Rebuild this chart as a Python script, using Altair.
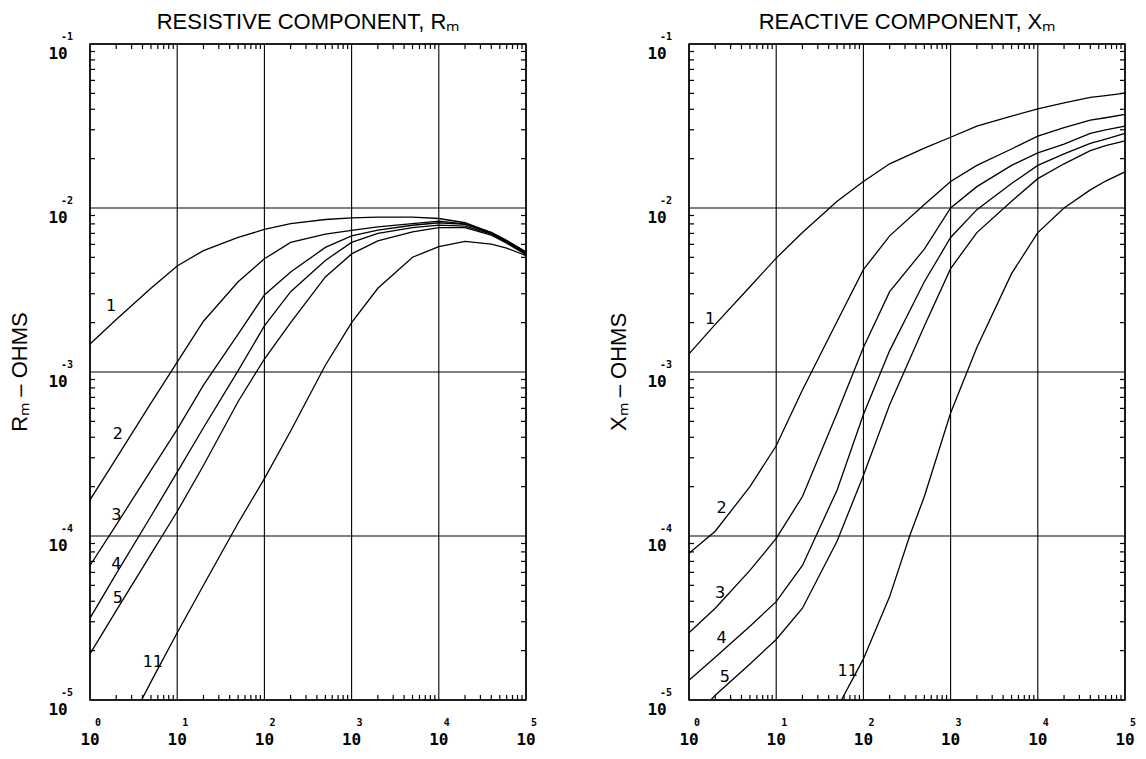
import altair as alt
import pandas as pd

# ---------------- values ----------------
FREQ = [1, 2, 5, 10, 20, 50, 100, 200, 500, 1000, 2000, 5000,
        10000, 20000, 40000, 60000, 100000]

# Resistive component R_m (ohms)
RM_1 = [1.48e-3, 2.09e-3, 3.24e-3, 4.43e-3, 5.50e-3, 6.61e-3, 7.41e-3, 8.02e-3, 8.51e-3,
        8.71e-3, 8.79e-3, 8.79e-3, 8.63e-3, 8.13e-3, 7.08e-3, 6.31e-3, 5.37e-3]
RM_2 = [1.66e-4, 2.97e-4, 6.46e-4, 1.15e-3, 2.04e-3, 3.55e-3, 4.90e-3, 6.17e-3, 6.92e-3,
        7.31e-3, 7.67e-3, 8.04e-3, 8.32e-3, 8.00e-3, 7.10e-3, 6.35e-3, 5.40e-3]
RM_3 = [6.61e-5, 1.17e-4, 2.51e-4, 4.47e-4, 8.32e-4, 1.70e-3, 2.95e-3, 4.07e-3, 5.75e-3,
        6.76e-3, 7.33e-3, 7.85e-3, 8.13e-3, 7.94e-3, 7.00e-3, 6.24e-3, 5.31e-3]
RM_4 = [3.16e-5, 5.89e-5, 1.32e-4, 2.45e-4, 4.57e-4, 1.02e-3, 1.91e-3, 3.09e-3, 4.79e-3,
        6.17e-3, 7.00e-3, 7.59e-3, 7.87e-3, 7.76e-3, 6.92e-3, 6.17e-3, 5.25e-3]
RM_5 = [1.91e-5, 3.51e-5, 7.76e-5, 1.41e-4, 2.69e-4, 6.61e-4, 1.20e-3, 2.00e-3, 3.80e-3,
        5.25e-3, 6.31e-3, 7.16e-3, 7.59e-3, 7.59e-3, 6.84e-3, 6.10e-3, 5.19e-3]
RM_11_F = [3.9, 5, 10, 20, 50, 100, 200, 500, 1000, 2000, 5000, 10000, 20000, 40000, 60000, 100000]
RM_11 = [1.00e-5, 1.29e-5, 2.57e-5, 5.01e-5, 1.20e-4, 2.24e-4, 4.37e-4, 1.10e-3, 2.00e-3,
         3.24e-3, 5.01e-3, 5.81e-3, 6.25e-3, 6.03e-3, 5.69e-3, 5.13e-3]

# Reactive component X_m (ohms)
XM_1 = [1.29e-3, 1.95e-3, 3.31e-3, 4.95e-3, 7.08e-3, 1.10e-2, 1.45e-2, 1.86e-2, 2.32e-2,
        2.70e-2, 3.16e-2, 3.63e-2, 4.02e-2, 4.37e-2, 4.73e-2, 4.84e-2, 5.01e-2]
XM_2 = [7.85e-5, 1.07e-4, 2.00e-4, 3.55e-4, 7.76e-4, 2.04e-3, 4.21e-3, 6.76e-3, 1.05e-2,
        1.45e-2, 1.82e-2, 2.29e-2, 2.74e-2, 3.09e-2, 3.43e-2, 3.55e-2, 3.72e-2]
XM_3 = [2.57e-5, 3.63e-5, 6.17e-5, 9.68e-5, 1.74e-4, 5.62e-4, 1.41e-3, 3.09e-3, 5.62e-3,
        1.00e-2, 1.35e-2, 1.82e-2, 2.17e-2, 2.45e-2, 2.85e-2, 2.99e-2, 3.16e-2]
XM_4 = [1.32e-5, 1.82e-5, 2.82e-5, 3.98e-5, 6.61e-5, 1.91e-4, 5.50e-4, 1.35e-3, 3.55e-3,
        6.61e-3, 9.77e-3, 1.41e-2, 1.82e-2, 2.14e-2, 2.48e-2, 2.63e-2, 2.85e-2]
XM_5_F = [1.78, 2, 5, 10, 20, 50, 100, 200, 500, 1000, 2000, 5000, 10000, 20000, 40000, 60000, 100000]
XM_5 = [1.00e-5, 1.07e-5, 1.66e-5, 2.34e-5, 3.63e-5, 9.33e-5, 2.34e-4, 6.31e-4, 1.91e-3,
        4.27e-3, 7.08e-3, 1.10e-2, 1.51e-2, 1.86e-2, 2.24e-2, 2.40e-2, 2.57e-2]
XM_11_F = [56, 100, 200, 339, 500, 1000, 2000, 5000, 10000, 20000, 40000, 60000, 100000]
XM_11 = [1.00e-5, 1.78e-5, 4.27e-5, 1.00e-4, 1.74e-4, 5.62e-4, 1.41e-3, 3.98e-3, 7.08e-3,
         1.00e-2, 1.29e-2, 1.46e-2, 1.66e-2]

# curve labels (anchor points in data units)
CURVE_NAMES = ["1", "2", "3", "4", "5", "11"]
RM_LABEL_F = [1.74, 2.09, 2.0, 2.0, 2.09, 5.25]
RM_LABEL_V = [2.51e-3, 4.17e-4, 1.35e-4, 6.76e-5, 4.17e-5, 1.70e-5]
XM_LABEL_F = [1.75, 2.37, 2.28, 2.37, 2.57, 66]
XM_LABEL_V = [2.11e-3, 1.48e-4, 4.52e-5, 2.40e-5, 1.38e-5, 1.51e-5]

# axes
X_DECADES = [1, 10, 100, 1000, 10000, 100000]
X_EXPONENTS = ["0", "1", "2", "3", "4", "5"]
Y_DECADES = [1e-5, 1e-4, 1e-3, 1e-2, 1e-1]
Y_EXPONENTS = ["-5", "-4", "-3", "-2", "-1"]
MINOR_STEPS = [2, 3, 4, 5, 6, 7, 8, 9]
X_POWERS = [1, 10, 100, 1000, 10000]
Y_POWERS = [1e-5, 1e-4, 1e-3, 1e-2]

TITLES = ["RESISTIVE COMPONENT, R\u2098", "REACTIVE COMPONENT, X\u2098"]
Y_TITLES = ["R\u2098 \u2013 OHMS", "X\u2098 \u2013 OHMS"]

# ---------------- tables ----------------
def curves_table(series):
    rows = []
    for name, f, v in series:
        for a, b in zip(f, v):
            rows.append({"curve": name, "x": a, "y": b})
    return pd.DataFrame(rows)

rm_df = curves_table([
    ("1", FREQ, RM_1), ("2", FREQ, RM_2), ("3", FREQ, RM_3),
    ("4", FREQ, RM_4), ("5", FREQ, RM_5), ("11", RM_11_F, RM_11)])
xm_df = curves_table([
    ("1", FREQ, XM_1), ("2", FREQ, XM_2), ("3", FREQ, XM_3),
    ("4", FREQ, XM_4), ("5", XM_5_F, XM_5), ("11", XM_11_F, XM_11)])

rm_lab = pd.DataFrame({"t": CURVE_NAMES, "x": RM_LABEL_F, "y": RM_LABEL_V})
xm_lab = pd.DataFrame({"t": CURVE_NAMES, "x": XM_LABEL_F, "y": XM_LABEL_V})

xdec = pd.DataFrame({"v": X_DECADES, "e": X_EXPONENTS})
ydec = pd.DataFrame({"v": Y_DECADES, "e": Y_EXPONENTS})
xminor = pd.DataFrame({"v": [m * p for p in X_POWERS for m in MINOR_STEPS]})
yminor = pd.DataFrame({"v": [m * p for p in Y_POWERS for m in MINOR_STEPS]})
one = pd.DataFrame({"a": [0]})

W, H = 436, 656
MONO = "DejaVu Sans Mono"
SANS = "Liberation Sans"
TICK = 5


def panel(df, lab, title, ytitle, helper):
    xs = alt.Scale(type="log", domain=[1, 1e5], nice=False)
    ys = alt.Scale(type="log", domain=[1e-5, 1e-1], nice=False)
    X = lambda f: alt.X(f, type="quantitative", scale=xs, axis=None)
    Y = lambda f: alt.Y(f, type="quantitative", scale=ys, axis=None)

    grid_x = alt.Chart(xdec).mark_rule(color="black", strokeWidth=1.1).encode(x=X("v"))
    grid_y = alt.Chart(ydec).mark_rule(color="black", strokeWidth=1.1).encode(y=Y("v"))
    t_bot = alt.Chart(xminor).mark_rule(color="black", strokeWidth=1.2).encode(
        x=X("v"), y=alt.value(H), y2=alt.value(H - TICK))
    t_top = alt.Chart(xminor).mark_rule(color="black", strokeWidth=1.2).encode(
        x=X("v"), y=alt.value(0), y2=alt.value(TICK))
    t_left = alt.Chart(yminor).mark_rule(color="black", strokeWidth=1.2).encode(
        y=Y("v"), x=alt.value(0), x2=alt.value(TICK))
    t_right = alt.Chart(yminor).mark_rule(color="black", strokeWidth=1.2).encode(
        y=Y("v"), x=alt.value(W), x2=alt.value(W - TICK))

    lines = alt.Chart(df).mark_line(color="black", strokeWidth=1.3).encode(
        x=X("x"), y=Y("y"), detail="curve:N")
    labels = alt.Chart(lab).mark_text(font="DejaVu Sans", fontSize=16, color="black").encode(
        x=X("x"), y=Y("y"), text="t:N")

    xl = alt.Chart(xdec).mark_text(font=MONO, fontWeight="bold", fontSize=16,
                                   color="black", text="10").encode(
        x=X("v"), y=alt.value(H + 40))
    xe = alt.Chart(xdec).mark_text(font=MONO, fontWeight="bold", fontSize=10,
                                   color="black", dx=8).encode(
        x=X("v"), y=alt.value(H + 23), text="e:N")
    yl = alt.Chart(ydec).mark_text(font=MONO, fontWeight="bold", fontSize=16,
                                   color="black", text="10", dy=10).encode(
        y=Y("v"), x=alt.value(-32))
    ye = alt.Chart(ydec).mark_text(font=MONO, fontWeight="bold", fontSize=10,
                                   color="black", dy=-7).encode(
        y=Y("v"), x=alt.value(-23), text="e:N")

    ttl = alt.Chart(one).mark_text(font=SANS, fontSize=22, color="black",
                                   baseline="alphabetic", text=title).encode(
        x=alt.value(W / 2), y=alt.value(-15))
    yttl = alt.Chart(one).mark_text(font=SANS, fontSize=22, color="black", angle=270,
                                    text=ytitle).encode(
        x=alt.value(-70), y=alt.value(H / 2))

    layers = [grid_x, grid_y, t_bot, t_top, t_left, t_right, lines, labels,
              xl, xe, yl, ye, ttl, yttl]
    if helper:
        layers.append(alt.Chart(one).mark_rule(opacity=0).encode(
            x=alt.value(-81), x2=alt.value(-81), y=alt.value(-35), y2=alt.value(-34)))
    return alt.layer(*layers).properties(width=W, height=H)


left = panel(rm_df, rm_lab, TITLES[0], Y_TITLES[0], True)
right = panel(xm_df, xm_lab, TITLES[1], Y_TITLES[1], False)

chart = alt.hconcat(left, right, spacing=163, bounds="flush").properties(
    padding={"left": 0, "top": 0, "right": 0, "bottom": 0},
    background="white",
).configure_view(stroke="black", strokeWidth=1.5)

chart.save("out.html", embed_options={"renderer": "svg", "actions": False})
